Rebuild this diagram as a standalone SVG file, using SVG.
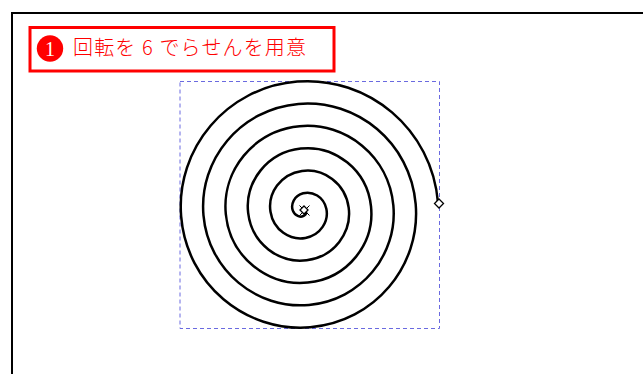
<svg xmlns="http://www.w3.org/2000/svg" width="643" height="374" viewBox="0 0 643 374">
<style>
.handle{fill:#fff;stroke:#000;stroke-width:1.3}
.label{font-family:"Noto Sans CJK JP","Liberation Serif",serif;font-size:20px;fill:#f00;font-weight:300}
</style>
<rect width="643" height="374" fill="#fff"/>
<g id="frame"><path d="M12 374V13H643" fill="none" stroke="#000" stroke-width="2"/></g>
<g id="caption">
<rect x="30" y="27.500" width="304" height="43.500" fill="#fff" stroke="#f00" stroke-width="3"/>
<circle cx="50" cy="48.500" r="13.200" fill="#f00"/>
<text x="50" y="55.500" text-anchor="middle" font-family="Liberation Serif,serif" font-size="20" fill="#fff">1</text>
<text class="label" x="73" y="55" textLength="233">回転を 6 でらせんを用意</text>
</g>
<g id="bbox"><rect x="180" y="81.500" width="259.500" height="247" fill="none" stroke="#6a6ae0" stroke-width="1" stroke-dasharray="4 3"/></g>
<g id="spiral"><path transform="translate(304 210) rotate(-3)" fill="none" stroke="#000" stroke-width="2.500" stroke-linecap="round" d="M0 0C1.97 0 3.09 3.63 0 5.59C-3.09 7.56 -9.22 6.18 -11.18 0C-13.15 -6.18 -9.27 -14.81 0 -16.78C9.27 -18.74 20.40 -12.35 22.37 0C24.34 12.35 15.44 26 0 27.96C-15.44 29.93 -31.59 18.53 -33.55 0C-35.52 -18.53 -21.62 -37.18 0 -39.14C21.62 -41.11 42.77 -24.71 44.74 0C46.70 24.71 27.80 48.36 0 50.33C-27.80 52.30 -53.95 30.88 -55.92 0C-57.89 -30.88 -33.97 -59.55 0 -61.51C33.97 -63.48 65.14 -37.06 67.10 0C69.07 37.06 40.15 70.73 0 72.70C-40.15 74.66 -76.32 43.24 -78.29 0C-80.25 -43.24 -46.33 -81.91 0 -83.88C46.33 -85.85 87.50 -49.41 89.47 0C91.44 49.41 52.50 93.10 0 95.06C-52.50 97.03 -98.69 55.59 -100.66 0C-102.62 -55.59 -58.68 -104.28 0 -106.25C58.68 -108.21 109.87 -61.77 111.84 0C113.81 61.77 64.86 115.46 0 117.43C-64.86 119.40 -121.06 67.94 -123.02 0C-124.99 -67.94 -71.03 -126.65 0 -128.61C71.03 -130.58 132.23 -74.12 134.20 0"/></g>
<g id="center-handle">
<path d="M299.500 205.500L309.500 215.500M309.500 205.500L299.500 215.500" stroke="#000" stroke-width="1" fill="none"/>
<path class="handle" d="M304 206L308 210L304 214L300 210Z"/>
</g>
<g id="end-handle"><path class="handle" d="M439 199L443.500 203.500L439 208L434.500 203.500Z"/></g>
</svg>
